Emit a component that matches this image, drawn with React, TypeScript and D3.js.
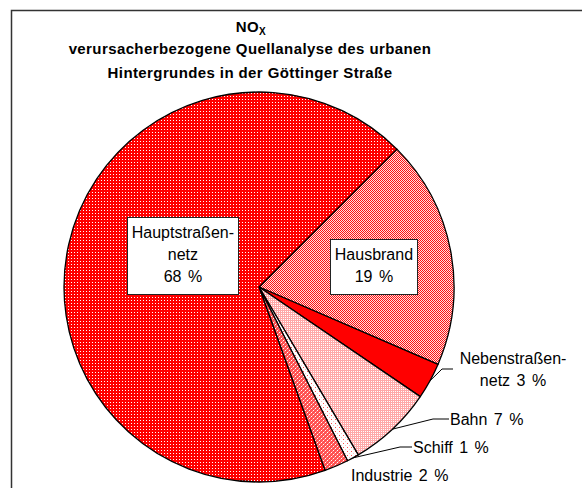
import React, { useRef, useEffect } from 'react';
import * as d3 from 'd3';

// data
const categories = ['Hausbrand', 'Nebenstraßennetz', 'Bahn', 'Schiff', 'Industrie', 'Hauptstraßennetz'];
const shares = [19, 3, 7, 1, 2, 68];
const labelLines = [
  ['Hausbrand', '19 %'],
  ['Nebenstraßen-', 'netz 3 %'],
  ['Bahn 7 %'],
  ['Schiff 1 %'],
  ['Industrie 2 %'],
  ['Hauptstraßen-', 'netz', '68 %'],
];
const titleLines = ['verursacherbezogene Quellanalyse des urbanen', 'Hintergrundes in der Göttinger Straße'];

const W = 582;
const H = 488;
const cx = 259;
const cy = 287;
const R = 195;
const lineH = 22;

const fills: Record<string, string> = {
  Hausbrand: 'url(#pHaus)',
  Nebenstraßennetz: '#ff0000',
  Bahn: 'url(#pBahn)',
  Schiff: 'url(#pSchiff)',
  Industrie: 'url(#pInd)',
  Hauptstraßennetz: 'url(#pHaupt)',
};

// label layout: boxed labels inside, leader labels outside
const layout: Record<string, any> = {
  Hausbrand: { inside: true, rf: 0.6, dy: 0 },
  Hauptstraßennetz: { inside: true, rf: 0.4, dy: -15 },
  Nebenstraßennetz: { x: 513, y: 369, anchor: 'middle', elbow: 442, end: 453 },
  Bahn: { x: 450, y: 419, anchor: 'start', elbow: 433, end: 449 },
  Schiff: { x: 413, y: 447, anchor: 'start', elbow: 400, end: 412 },
  Industrie: { x: 351, y: 475, anchor: 'start' },
};

const App = () => {
  const svgRef = useRef<SVGSVGElement>(null);

  useEffect(() => {
    const svg = d3.select(svgRef.current);
    svg.selectAll('*').remove();

    const defs = svg.append('defs');
    const pat = (id: string, w: number, h: number, bg: string, dots: [number, number, string][]) => {
      const p = defs.append('pattern').attr('id', id).attr('patternUnits', 'userSpaceOnUse')
        .attr('width', w).attr('height', h);
      p.append('rect').attr('width', w).attr('height', h).attr('fill', bg);
      dots.forEach(([x, y, c]) => p.append('rect').attr('x', x).attr('y', y).attr('width', 1).attr('height', 1).attr('fill', c));
    };
    pat('pHaupt', 3, 3, '#ff0000', [[1, 1, '#ffffff']]);
    pat('pHaus', 2, 2, '#ff1010', [[1, 0, '#ffe0e0'], [0, 1, '#ffe0e0']]);
    pat('pBahn', 2, 2, '#ffa8a8', [[0, 0, '#ffffff']]);
    pat('pSchiff', 4, 4, '#ffffff', [[0, 0, '#ff5050'], [2, 2, '#ffc0c0']]);
    pat('pInd', 4, 4, '#ff5050', [[1, 0, '#ff9090'], [3, 2, '#ff9090'], [0, 1, '#ffffff'], [2, 3, '#ffffff']]);

    // frame
    svg.append('path')
      .attr('d', `M11.5,${H} L11.5,10.5 L${W},10.5`)
      .attr('fill', 'none').attr('stroke', '#333').attr('stroke-width', 1.5);

    // title
    const title = svg.append('g')
      .attr('font-family', 'Liberation Sans, Arial, sans-serif')
      .attr('font-weight', 'bold').attr('font-size', 15).attr('fill', '#000')
      .attr('letter-spacing', 0.4)
      .attr('text-anchor', 'middle');
    const t0 = title.append('text').attr('x', 251).attr('y', 32);
    t0.append('tspan').text('NO');
    t0.append('tspan').attr('font-size', 10).attr('dy', 3).text('X');
    titleLines.forEach((s, i) => {
      title.append('text').attr('x', 250).attr('y', 54 + i * 24).text(s);
    });

    const data = categories.map((c, i) => ({ name: c, value: shares[i], lines: labelLines[i] }));
    const pie = d3.pie<any>().value(d => d.value).sort(null)
      .startAngle(Math.PI / 4).endAngle(Math.PI / 4 + 2 * Math.PI);
    const arcs = pie(data);
    const arc = d3.arc<any>().innerRadius(0).outerRadius(R);

    const g = svg.append('g').attr('transform', `translate(${cx},${cy})`);
    g.selectAll('path.slice')
      .data(arcs)
      .enter()
      .append('path')
      .attr('class', 'slice')
      .attr('d', arc)
      .attr('fill', d => fills[d.data.name])
      .attr('stroke', '#000')
      .attr('stroke-width', 1.3)
      .attr('stroke-linejoin', 'round');

    const lab = svg.append('g')
      .attr('font-family', 'Liberation Sans, Arial, sans-serif')
      .attr('font-size', 16).attr('word-spacing', 2).attr('fill', '#000');

    arcs.forEach(a => {
      const L = layout[a.data.name];
      const mid = (a.startAngle + a.endAngle) / 2;
      const lines: string[] = a.data.lines;
      if (L.inside) {
        const x = cx + Math.sin(mid) * R * L.rf;
        const y = cy - Math.cos(mid) * R * L.rf + L.dy;
        const box = lab.append('rect').attr('fill', '#fff').attr('stroke', '#222').attr('stroke-width', 1);
        const t = lab.append('text').attr('text-anchor', 'middle');
        const c0 = y - (lines.length - 1) / 2 * lineH;
        lines.forEach((s, i) => {
          t.append('tspan').attr('x', x).attr('y', c0 + i * lineH + 5.5).text(s);
        });
        const bb = (t.node() as SVGTextElement).getBBox();
        const top = Math.round(c0 - 15.5);
        const bot = Math.round(c0 + (lines.length - 1) * lineH + 17.5);
        box.attr('x', Math.round(bb.x - 5) + 0.5).attr('y', top + 0.5)
          .attr('width', Math.round(bb.width + 9)).attr('height', bot - top);
      } else {
        if (L.elbow !== undefined) {
          const ex = cx + Math.sin(mid) * R;
          const ey = cy - Math.cos(mid) * R;
          lab.append('path')
            .attr('d', `M${ex},${ey} L${L.elbow},${L.y} L${L.end},${L.y}`)
            .attr('fill', 'none').attr('stroke', '#000').attr('stroke-width', 1);
        }
        const t = lab.append('text').attr('text-anchor', L.anchor);
        lines.forEach((s, i) => {
          t.append('tspan').attr('x', L.x)
            .attr('y', L.y + (i - (lines.length - 1) / 2) * lineH + 5.5).text(s);
        });
      }
    });
  }, []);

  return (
    <svg ref={svgRef} width={W} height={H}
      style={{ position: 'absolute', left: 0, top: 0, background: '#fff' }} />
  );
};

export default App;
